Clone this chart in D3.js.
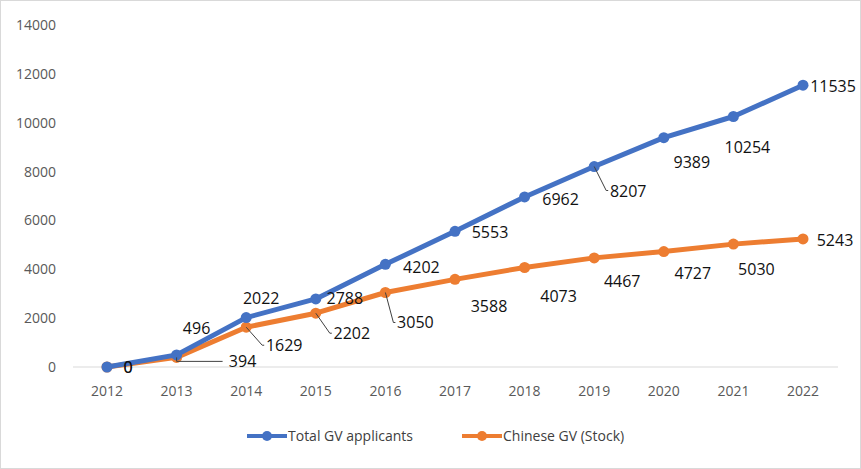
<!DOCTYPE html><html><head><meta charset="utf-8"><script src="https://cdn.jsdelivr.net/npm/d3@7"></script>
<style>body{margin:0;background:#fff}text{font-family:"Open Sans","Liberation Sans",sans-serif}</style></head><body><svg id="c" width="861" height="469"></svg><script>
const years=["2012","2013","2014","2015","2016","2017","2018","2019","2020","2021","2022"];
const totalGV=[0,496,2022,2788,4202,5553,6962,8207,9389,10254,11535];
const chineseGV=[0,394,1629,2202,3050,3588,4073,4467,4727,5030,5243];
const seriesNames=["Total GV applicants","Chinese GV (Stock)"];
const yTicks=[0,2000,4000,6000,8000,10000,12000,14000];
// label offsets (style)
const offT=[[21,0],[20,-27],[15,-20],[29,-1],[36,3],[35,1],[36,2],[34,24],[28,24],[14,30],[30,1]];
const offC=[[21,0],[66,4],[38,18],[36,20],[30,30],[34,27],[34,28],[28,23],[29,21],[23,25],[32,1]];
const leadT=[false,false,false,false,false,false,false,true,false,false,false];
const leadC=[false,true,true,true,true,false,false,false,false,false,false];
const colors=["#4472C4","#ED7D31"];
const svg=d3.select("#c");
svg.append("rect").attr("x",0.5).attr("y",0.5).attr("width",860).attr("height",468).attr("fill","#fff").attr("stroke","#d9d9d9");
const x=d3.scalePoint().domain(years).range([107,803]);
const y=d3.scaleLinear().domain([0,14000]).range([367,25]);
svg.append("line").attr("x1",73).attr("x2",838).attr("y1",y(0)).attr("y2",y(0)).attr("stroke","#d9d9d9");
svg.selectAll(".yt").data(yTicks).join("text").attr("x",56).attr("y",d=>y(d)+5).attr("text-anchor","end").attr("font-size",14).attr("fill","#595959").text(d=>d);
svg.selectAll(".xt").data(years).join("text").attr("x",d=>x(d)).attr("y",396).attr("text-anchor","middle").attr("font-size",14).attr("fill","#595959").text(d=>d);
const line=d3.line().x((d,i)=>x(years[i])).y(d=>y(d));
[[chineseGV,offC,leadC,1],[totalGV,offT,leadT,0]].forEach(([vals,off,lead,k])=>{
  svg.append("path").attr("d",line(vals)).attr("fill","none").attr("stroke",colors[k]).attr("stroke-width",5).attr("stroke-linejoin","round");
  svg.selectAll(null).data(vals).join("circle").attr("cx",(d,i)=>x(years[i])).attr("cy",d=>y(d)).attr("r",5.5).attr("fill",colors[k]);
});
[[totalGV,offT,leadT],[chineseGV,offC,leadC]].forEach(([vals,off,lead])=>{
  vals.forEach((v,i)=>{
    const px=x(years[i]),py=y(v),tx=px+off[i][0],ty=py+off[i][1];
    if(lead[i]){
      const lx=tx-22;
      svg.append("path").attr("d",`M${px},${py}L${Math.abs(off[i][1])<8?px:lx},${ty}L${lx+2},${ty}`).attr("fill","none").attr("stroke","#404040").attr("stroke-width",1);
    }
    svg.append("text").attr("x",tx).attr("y",ty+6).attr("text-anchor","middle").attr("font-size",16).attr("fill","#111").text(v);
  });
});
const lg=svg.append("g");
[[247,0],[462,1]].forEach(([lx,k])=>{
  lg.append("line").attr("x1",lx).attr("x2",lx+40).attr("y1",436).attr("y2",436).attr("stroke",colors[k]).attr("stroke-width",4);
  lg.append("circle").attr("cx",lx+20).attr("cy",436).attr("r",5).attr("fill",colors[k]);
  lg.append("text").attr("x",lx+41).attr("y",441).attr("font-size",14).attr("fill","#404040").text(seriesNames[k]);
});
</script></body></html>
